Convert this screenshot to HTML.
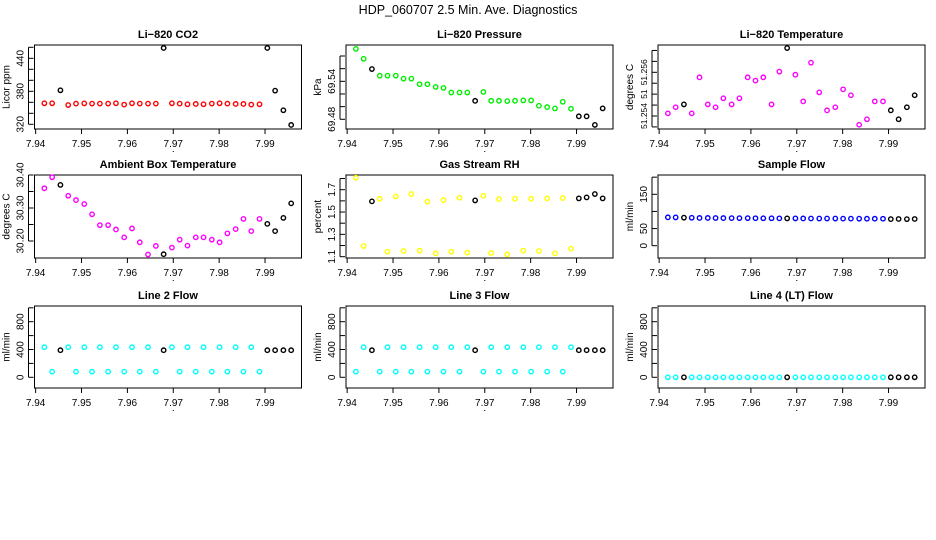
<!DOCTYPE html>
<html><head><meta charset="utf-8"><style>
html,body{margin:0;padding:0;background:#fff;}
svg{display:block;font-family:"Liberation Sans",Arial,sans-serif;}
</style></head><body>
<svg id="chart" width="936" height="540" viewBox="0 0 936 540">
<rect x="0" y="0" width="936" height="540" fill="#fff"/>
<text x="468" y="14" text-anchor="middle" font-size="12.5">HDP_060707  2.5 Min. Ave. Diagnostics</text>
</svg>
<script>
const times = [7.9419,7.9436,7.9454,7.9471,7.9488,7.9506,7.9523,7.9540,7.9558,7.9575,7.9593,7.9610,7.9627,7.9645,7.9662,7.9679,7.9697,7.9714,7.9731,7.9749,7.9766,7.9784,7.9801,7.9818,7.9836,7.9853,7.9870,7.9888,7.9905,7.9922,7.9940,7.9957];
const flagged = [2,15,28,29,30,31];
const xTicks = [7.94,7.95,7.96,7.97,7.98,7.99];
const xTickLabels = ["7.94","7.95","7.96","7.97","7.98","7.99"];
const co2 = [358.2,358.2,381.8,355,357.6,358,357.6,357.6,357.6,358.2,355.8,358.2,357.6,357.6,357.6,458.8,358.2,357.6,356.4,357,356.4,357.6,358.2,357.6,357,357,355.8,356.4,458.8,381.2,345.5,318.8];
const pressure = [69.5912,69.5756,69.5594,69.5489,69.5489,69.5489,69.5442,69.5442,69.5354,69.5354,69.5312,69.5296,69.5223,69.5223,69.5223,69.5092,69.5233,69.5092,69.5092,69.5087,69.5092,69.5098,69.5098,69.5014,69.4993,69.4972,69.5077,69.4967,69.4847,69.4847,69.4711,69.4972];
const liTemp = [51.25412,51.2544,51.25453,51.25412,51.25577,51.25453,51.2544,51.25481,51.25453,51.25481,51.25577,51.25562,51.25577,51.25453,51.25603,51.25711,51.25589,51.25467,51.25644,51.25508,51.25426,51.2544,51.25522,51.25495,51.2536,51.25385,51.25467,51.25467,51.25426,51.25385,51.2544,51.25495];
const boxTemp = [30.3596,30.393,30.370,30.337,30.324,30.312,30.281,30.248,30.248,30.235,30.211,30.238,30.196,30.159,30.185,30.160,30.180,30.204,30.186,30.211,30.211,30.204,30.196,30.223,30.236,30.267,30.230,30.267,30.252,30.230,30.270,30.314];
const rh = [1.807,1.1955,1.5955,1.619,1.145,1.640,1.151,1.661,1.154,1.593,1.130,1.607,1.145,1.628,1.136,1.604,1.646,1.133,1.616,1.121,1.619,1.154,1.619,1.151,1.622,1.130,1.625,1.172,1.622,1.631,1.661,1.622];
const sampleFlow = [82.8,82.5,81.8,81.5,81,81,80.8,80.6,80.5,80.4,80.3,80.2,80,80,79.8,79.6,79.6,79.5,79.4,79.3,79.3,79.2,79,79,78.9,78.8,78.8,78.7,77.6,78,77.5,78];
const line2 = [433,81,390,433,81,433,81,433,81,433,81,433,81,433,81,390,433,81,433,81,433,81,433,81,433,81,433,81,390,390,390,390];
const line3 = [81,433,390,81,433,81,433,81,433,81,433,81,433,81,433,390,81,433,81,433,81,433,81,433,81,433,81,433,390,390,390,390];
const line4 = [0,0,0,0,0,0,0,0,0,0,0,0,0,0,0,0,0,0,0,0,0,0,0,0,0,0,0,0,0,0,0,0];
const yTicksCO2 = [320,340,360,380,400,420,440,460];
const yLabelsCO2 = [[320,"320"],[380,"380"],[440,"440"]];
const yTicksP = [69.48,69.50,69.52,69.54,69.56,69.58];
const yLabelsP = [[69.48,"69.48"],[69.54,"69.54"]];
const yTicksLT = [51.2535,51.254,51.2545,51.255,51.2555,51.256,51.2565,51.257];
const yLabelsLT = [[51.254,"51.254"],[51.255,"51"],[51.256,"51.256"]];
const yTicksBT = [30.20,30.25,30.30,30.35,30.40];
const yLabelsBT = [[30.20,"30.20"],[30.30,"30.30"],[30.40,"30.40"]];
const yTicksRH = [1.1,1.2,1.3,1.4,1.5,1.6,1.7,1.8];
const yLabelsRH = [[1.1,"1.1"],[1.3,"1.3"],[1.5,"1.5"],[1.7,"1.7"]];
const yTicksSF = [0,50,100,150,200];
const yLabelsSF = [[0,"0"],[50,"50"],[150,"150"]];
const yTicksL = [0,200,400,600,800,1000];
const yLabelsL = [[0,"0"],[400,"400"],[800,"800"]];

const NS = "http://www.w3.org/2000/svg";
const svg = document.getElementById("chart");
function mk(tag, attrs, parent){const e=document.createElementNS(NS,tag);for(const k in attrs)e.setAttribute(k,attrs[k]);(parent||svg).appendChild(e);return e;}

const colLeft=[34.5,346,658], colW=267;
const rowTop=[45,175,306], rowH=[84,83,82];
const XMIN=7.93975, XMAX=7.99795;
const panels=[
 {id:"li820-co2",title:"Li\u2212820 CO2",ylab:"Licor ppm",data:co2,color:"#ff0000",r:0,c:0,a:[320,124.3,440,58.3],ticks:yTicksCO2,labels:yLabelsCO2,fs:10},
 {id:"li820-pressure",title:"Li\u2212820 Pressure",ylab:"kPa",data:pressure,color:"#00ee00",r:0,c:1,a:[69.48,119.3,69.58,56],ticks:yTicksP,labels:yLabelsP,fs:10},
 {id:"li820-temperature",title:"Li\u2212820 Temperature",ylab:"degrees C",data:liTemp,color:"#ff00ff",r:0,c:2,a:[51.254,116,51.256,72.3],ticks:yTicksLT,labels:yLabelsLT,fs:8.5},
 {id:"ambient-box-temperature",title:"Ambient Box Temperature",ylab:"degrees C",data:boxTemp,color:"#ff00ff",r:1,c:0,a:[30.20,241,30.40,175],ticks:yTicksBT,labels:yLabelsBT,fs:10},
 {id:"gas-stream-rh",title:"Gas Stream RH",ylab:"percent",data:rh,color:"#ffff00",r:1,c:1,a:[1.1,256.7,1.7,189.7],ticks:yTicksRH,labels:yLabelsRH,fs:10},
 {id:"sample-flow",title:"Sample Flow",ylab:"ml/min",data:sampleFlow,color:"#0000ff",r:1,c:2,a:[0,245.7,150,194.3],ticks:yTicksSF,labels:yLabelsSF,fs:10},
 {id:"line2-flow",title:"Line 2 Flow",ylab:"ml/min",data:line2,color:"#00ffff",r:2,c:0,a:[0,377.3,800,321.7],ticks:yTicksL,labels:yLabelsL,fs:10},
 {id:"line3-flow",title:"Line 3 Flow",ylab:"ml/min",data:line3,color:"#00ffff",r:2,c:1,a:[0,377.3,800,321.7],ticks:yTicksL,labels:yLabelsL,fs:10},
 {id:"line4-flow",title:"Line 4 (LT) Flow",ylab:"ml/min",data:line4,color:"#00ffff",r:2,c:2,a:[0,377.3,800,321.7],ticks:yTicksL,labels:yLabelsL,fs:10}
];

panels.forEach(p=>{
  const L=colLeft[p.c], T=rowTop[p.r], H=rowH[p.r], B=T+H;
  const xs=t=>L+(t-XMIN)/(XMAX-XMIN)*colW;
  const ys=v=>p.a[1]+(v-p.a[0])*(p.a[3]-p.a[1])/(p.a[2]-p.a[0]);
  const g=mk("g",{});
  
  
  const box=mk("rect",{x:L,y:T,width:colW,height:H,fill:"none",stroke:"#000","stroke-width":1},g);
  
  
  const tt=mk("text",{x:L+colW/2,y:T-7,"text-anchor":"middle","font-size":11,"font-weight":"bold"},g);
  tt.textContent=p.title;
  
  
  const xa=mk("g",{},g);
  
  
  mk("line",{x1:xs(xTicks[0]),x2:xs(xTicks[xTicks.length-1]),y1:B,y2:B,stroke:"#000"},xa);
  xTicks.forEach((t,i)=>{
    mk("line",{x1:xs(t),x2:xs(t),y1:B,y2:B+5,stroke:"#000"},xa);
    const lb=mk("text",{x:xs(t),y:B+18,"text-anchor":"middle","font-size":10},xa);
    lb.textContent=xTickLabels[i];
    
    
  });
  mk("rect",{x:xs(7.97)-0.5,y:B+22,width:1,height:1,fill:"#000"},xa);
  const ya=mk("g",{},g);
  
  
  const tp=p.ticks.map(ys);
  mk("line",{x1:L-6,x2:L-6,y1:Math.min(...tp),y2:Math.max(...tp),stroke:"#000"},ya);
  p.ticks.forEach(v=>mk("line",{x1:L-6,x2:L-1,y1:ys(v),y2:ys(v),stroke:"#000"},ya));
  p.labels.forEach(([v,s])=>{
    const yy=ys(v);
    const lb=mk("text",{x:L-11,y:yy,"text-anchor":"middle","font-size":p.fs,transform:`rotate(-90 ${L-11} ${yy})`},ya);
    lb.textContent=s;
    
    
  });
  const yl=mk("text",{x:L-25,y:T+H/2,"text-anchor":"middle","font-size":10,transform:`rotate(-90 ${L-25} ${T+H/2})`},g);
  yl.textContent=p.ylab;
  
  
  p.data.forEach((v,i)=>{
    const bad=flagged.includes(i);
    const c=mk("circle",{cx:xs(times[i]),cy:ys(v),r:2.2,fill:"none",stroke:bad?"#000":p.color,"stroke-width":1.4},g);
    
    
  });
});
</script>
</body></html>
